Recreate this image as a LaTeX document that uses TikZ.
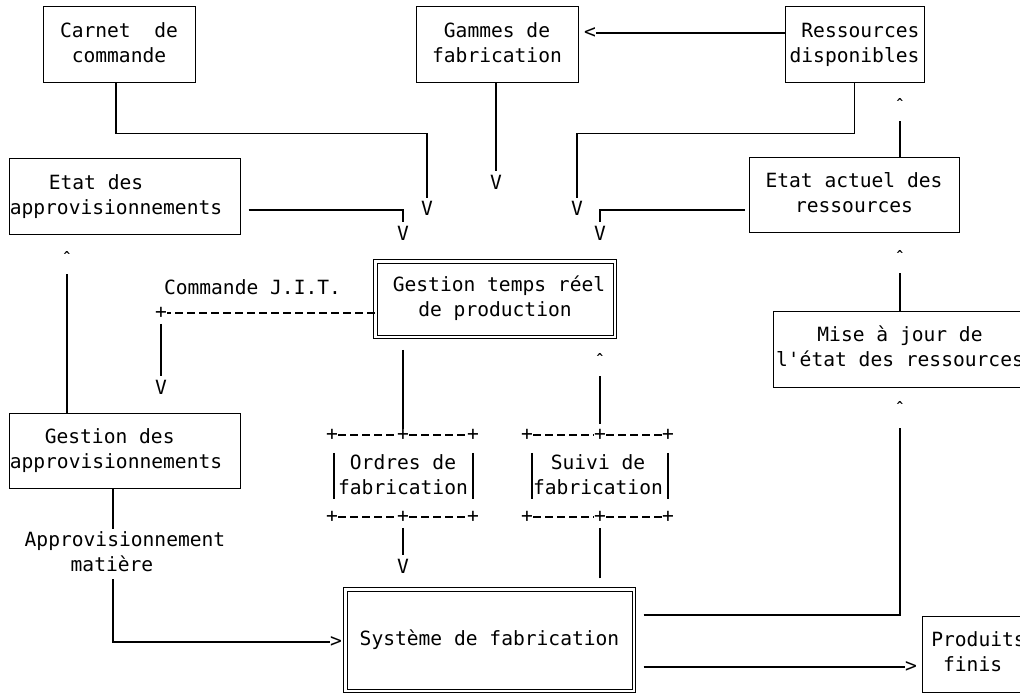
\documentclass[tikz,border=0pt]{standalone}
\usepackage{fontspec}
\setmainfont{DejaVu Sans Mono}
\begin{document}
\begin{tikzpicture}[x=1pt,y=-1pt,
  txt/.style={font=\fontsize{19.6}{25}\selectfont, inner sep=0pt, align=center},
  box/.style={txt, draw, line width=1pt},
  dbox/.style={box, double, double distance=2.5pt},
  sym/.style={font=\fontsize{19.6}{25}\selectfont, inner sep=0pt},
  caret/.style={font=\bfseries\fontsize{11}{12}\selectfont, inner sep=0pt, anchor=north},
  ln/.style={line width=1.1pt},
  dl/.style={line width=1.1pt, dash pattern=on 8pt off 4pt}]
\fill[white] (0,0) rectangle (1020,695);
\useasboundingbox (0,0) rectangle (1020,695);
\clip (0,0) rectangle (1020,695);

% boxes
\node[box, minimum width=152pt, minimum height=76pt] (carnet) at (119,45) {\strut Carnet\ \ de\\\strut commande};
\node[box, minimum width=162pt, minimum height=76pt] (gammes) at (497,45) {\strut Gammes de\\\strut fabrication};
\node[box, minimum width=139pt, minimum height=76pt, align=right] (ressdisp) at (854.5,45) {\strut Ressources\\\strut disponibles};
\node[box, minimum width=231pt, minimum height=76pt, align=left] (etatappro) at (124.5,197) {\strut\rule{39pt}{0pt}Etat des\\\strut approvisionnements\rule{17pt}{0pt}};
\node[box, minimum width=210pt, minimum height=75pt] (etatact) at (854,195.5) {\strut Etat actuel des\\\strut ressources};
\node[dbox, minimum width=239.5pt, minimum height=75.5pt] (gtr) at (495,299) {\strut\rule{8pt}{0pt}Gestion temps réel\\\strut de production};
\node[box, minimum width=254pt, minimum height=76pt] (maj) at (900,349) {\strut Mise à jour de\\\strut l\textquotesingle état des ressources};
\node[box, minimum width=231pt, minimum height=75pt, align=left] (gappro) at (124.5,450.5) {\strut\rule{35pt}{0pt}Gestion des\\\strut approvisionnements\rule{17pt}{0pt}};
\node[dbox, minimum width=288.5pt, minimum height=101.5pt] (sys) at (489.5,640) {\raisebox{-6pt}{Système de fabrication}};
\node[box, minimum width=113pt, minimum height=76pt, align=left] (prod) at (978.5,654) {\strut Produits\\\strut\phantom{f}finis};

% ASCII boxes
\node[txt] (ordres) at (403,477) {\strut Ordres de\\\strut fabrication};
\node[txt] (suivi) at (598,477) {\strut Suivi de\\\strut fabrication};
\node[sym] (otl) at (332,435) {+};
\node[sym] (otm) at (403,435) {+};
\node[sym] (otr) at (473,435) {+};
\node[sym] (obl) at (332,517) {+};
\node[sym] (obm) at (403,517) {+};
\node[sym] (obr) at (473,517) {+};
\node[sym] (stl) at (527,435) {+};
\node[sym] (stm) at (600,435) {+};
\node[sym] (str) at (668,435) {+};
\node[sym] (sbl) at (527,517) {+};
\node[sym] (sbm) at (600,517) {+};
\node[sym] (sbr) at (668,517) {+};
\draw[dl] (otl.east) -- (otm.west) (otm.east) -- (otr.west)
          (obl.east) -- (obm.west) (obm.east) -- (obr.west)
          (stl.east) -- (stm.west) (stm.east) -- (str.west)
          (sbl.east) -- (sbm.west) (sbm.east) -- (sbr.west);
\draw[ln] ([xshift=2pt,yshift=-12pt]otl.south) -- ([xshift=2pt,yshift=12pt]obl.north)
          ([yshift=-12pt]otr.south) -- ([yshift=12pt]obr.north)
          ([xshift=5pt,yshift=-12pt]stl.south) -- ([xshift=5pt,yshift=12pt]sbl.north)
          ([yshift=-12pt]str.south) -- ([yshift=12pt]sbr.north);

% arrow heads as printed characters
\node[sym] (va) at (427,208) {V};
\node[sym] (vb) at (496,182) {V};
\node[sym] (vc) at (577,208) {V};
\node[sym] (vd) at (403,233) {V};
\node[sym] (ve) at (600,233) {V};
\node[sym] (vf) at (161,387) {V};
\node[sym] (vg) at (403,566) {V};
\node[sym] (lt) at (590,33) {<};
\node[sym] (gt1) at (336,642) {>};
\node[sym] (gt2) at (911,667) {>};
\node[caret] (ca) at (900,98) {\textasciicircum};
\node[caret] (cb) at (900,250) {\textasciicircum};
\node[caret] (cc) at (900,401) {\textasciicircum};
\node[caret] (cd) at (67,251) {\textasciicircum};
\node[caret] (ce) at (600,353) {\textasciicircum};

% labels
\node[txt] (jit) at (252.5,287) {Commande J.I.T.};
\node[txt, align=left] (am) at (125,554) {\strut Approvisionnement\\\strut\rule{46pt}{0pt}matière};
\node[sym] (pj) at (161,313) {+};

% connectors
\draw[ln] ([xshift=-3pt]carnet.south) -- ++(0,50) -| ([yshift=3pt]va.north);
\draw[ln] ([xshift=-1pt]gammes.south) -- ([yshift=4pt]vb.north);
\draw[ln] (ressdisp.south) -- ++(0,50) -| ([yshift=3pt]vc.north);
\draw[ln] ([xshift=8pt,yshift=-13pt]etatappro.east) -| ([yshift=4pt]vd.north);
\draw[ln] ([xshift=-4pt,yshift=-14.5pt]etatact.west) -| ([yshift=4pt]ve.north);
\draw[ln] ([yshift=12pt]ressdisp.west) -- (lt.east);
\draw[ln,shorten >=14.7pt] ([xshift=46pt]etatact.north) -- (ca.south);
\draw[ln,shorten >=14.7pt] (maj.north) -- (cb.south);
\draw[ln,shorten >=18.7pt] ([xshift=9.25pt,yshift=25pt]sys.east) -| (cc.south);
\draw[ln] ([xshift=9.25pt,yshift=-27pt]sys.east) -- (gt2.west);
\draw[ln,shorten >=14.7pt] ([xshift=-57.5pt]gappro.north) -- (cd.south);
\draw[ln] ([xshift=-11.5pt]gappro.south) -- ([xshift=-12pt]am.north);
\draw[ln] ([xshift=-12pt]am.south) |- (gt1.west);
\draw[dl] ([yshift=-14pt]gtr.west) -- (pj.east);
\draw[ln,shorten <=5pt] (pj.south) -- ([yshift=4pt]vf.north);
\draw[ln] ([xshift=-92pt,yshift=-12.5pt]gtr.south) -- (otm.north);
\draw[ln,shorten <=5pt] (obm.south) -- ([yshift=4pt]vg.north);
\draw[ln,shorten >=5pt] ([xshift=110.5pt,yshift=10.5pt]sys.north) -- (sbm.south);
\draw[ln,shorten >=14.7pt,shorten <=5pt] (stm.north) -- (ce.south);
\end{tikzpicture}
\end{document}
